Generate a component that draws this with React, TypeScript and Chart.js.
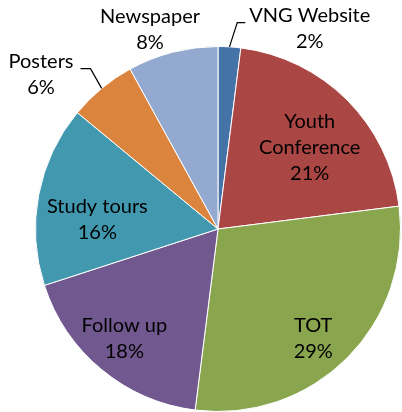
import React, { useEffect, useRef } from "react";
import { Chart, registerables } from "chart.js";

Chart.register(...registerables);

const categories = ["VNG Website", "Youth Conference", "TOT", "Follow up", "Study tours", "Posters", "Newspaper"];
const values = [2, 21, 29, 18, 16, 6, 8];
const labelLines = [["VNG Website"], ["Youth", "Conference"], ["TOT"], ["Follow up"], ["Study tours"], ["Posters"], ["Newspaper"]];
const colors = ["#4572A7", "#AA4643", "#89A54E", "#71588F", "#4198AF", "#DB843D", "#93A9CF"];

// label placement: angle delta (deg) from slice mid-angle, radius factor, leader side
const placement = [
  { d: 21, r: 1.208, leader: "left" },
  { d: 3.3, r: 0.673 },
  { d: 3.9, r: 0.794 },
  { d: 1, r: 0.789 },
  { d: -6.5, r: 0.663 },
  { d: -9.3, r: 1.287, leader: "right" },
  { d: -4.4, r: 1.155 },
];

const FONT = "20px Lato";
const LINE_H = 26;

const labelPlugin = {
  id: "pieLabels",
  afterDatasetsDraw(chart: any) {
    const ctx = chart.ctx;
    const meta = chart.getDatasetMeta(0);
    const total = values.reduce((a, b) => a + b, 0);
    ctx.save();
    ctx.font = FONT;
    ctx.fillStyle = "#000";
    ctx.textAlign = "center";
    ctx.textBaseline = "middle";
    meta.data.forEach((arc: any, i: number) => {
      const { x, y, startAngle, endAngle, outerRadius } = arc.getProps(["x", "y", "startAngle", "endAngle", "outerRadius"], true);
      const mid = (startAngle + endAngle) / 2;
      const p = placement[i];
      const a = mid + (p.d * Math.PI) / 180;
      const lx = x + Math.cos(a) * outerRadius * p.r;
      const ly = y + Math.sin(a) * outerRadius * p.r;
      const lines = [...labelLines[i], Math.round((values[i] / total) * 100) + "%"];
      const top = ly - ((lines.length - 1) * LINE_H) / 2;
      let maxW = 0;
      lines.forEach((t, k) => {
        ctx.fillText(t, lx, top + k * LINE_H);
        maxW = Math.max(maxW, ctx.measureText(t).width);
      });
      if (p.leader) {
        const ax = x + Math.cos(mid) * outerRadius;
        const ay = y + Math.sin(mid) * outerRadius;
        const hy = ly - 6;
        let ex, bx;
        if (p.leader === "left") {
          const edge = lx - maxW / 2;
          ex = edge - 4;
          bx = edge - 12;
        } else {
          const edge = lx + maxW / 2;
          ex = edge + 7;
          bx = edge + 17;
        }
        ctx.strokeStyle = "#000";
        ctx.lineWidth = 1.2;
        ctx.beginPath();
        ctx.moveTo(ax, ay);
        ctx.lineTo(bx, hy);
        ctx.lineTo(ex, hy);
        ctx.stroke();
      }
    });
    ctx.restore();
  },
};

export default function App() {
  const ref = useRef<HTMLCanvasElement>(null);
  useEffect(() => {
    const chart = new Chart(ref.current as HTMLCanvasElement, {
      type: "pie",
      data: {
        labels: categories,
        datasets: [
          {
            data: values,
            backgroundColor: colors,
            borderColor: "#ffffff",
            borderWidth: 1,
          },
        ],
      },
      options: {
        responsive: false,
        maintainAspectRatio: false,
        animation: false,
        layout: { padding: { left: 35, right: 1, top: 46, bottom: 0 } },
        plugins: { legend: { display: false }, tooltip: { enabled: false } },
      },
      plugins: [labelPlugin],
    });
    return () => chart.destroy();
  }, []);
  return (
    <div style={{ position: "fixed", left: 0, top: 0, width: 402, height: 412, background: "#fff" }}>
      <canvas ref={ref} width={402} height={412} style={{ display: "block" }} />
    </div>
  );
}
